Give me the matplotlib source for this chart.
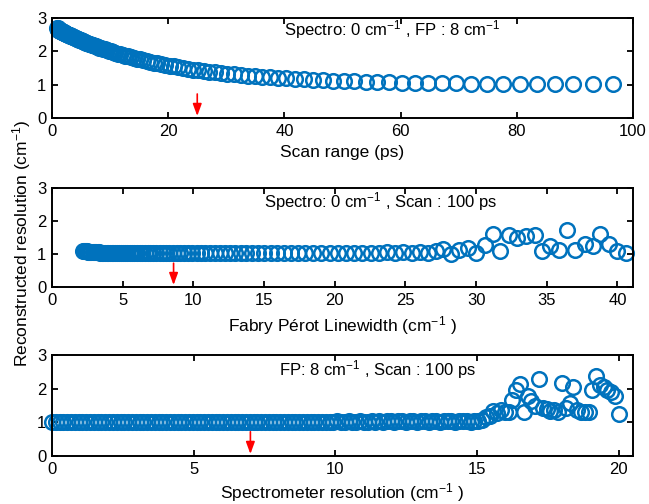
import matplotlib
matplotlib.use("Agg")
import matplotlib.pyplot as plt

plt.rcParams['font.family'] = ['Liberation Sans', 'DejaVu Sans']
plt.rcParams['mathtext.fontset'] = 'custom'
plt.rcParams['mathtext.rm'] = 'Liberation Sans'
plt.rcParams['mathtext.it'] = 'Liberation Sans:italic'
plt.rcParams['mathtext.bf'] = 'Liberation Sans:bold'

# ---------------- data: top panel (scan range) ----------------
scan_x = [0.92, 0.96, 0.99, 1.03, 1.07, 1.11, 1.15, 1.19, 1.23, 1.28, 1.33, 1.38, 1.43, 1.48,
          1.53, 1.59, 1.65, 1.71, 1.77, 1.84, 1.91, 1.98, 2.05, 2.13, 2.21, 2.29, 2.37, 2.46,
          2.55, 2.65, 2.74, 2.85, 2.95, 3.06, 3.17, 3.29, 3.41, 3.54, 3.67, 3.81, 3.95, 4.09,
          4.24, 4.40, 4.56, 4.73, 4.91, 5.09, 5.28, 5.47, 5.67, 5.88, 6.10, 6.33, 6.56, 6.80,
          7.06, 7.32, 7.59, 7.87, 8.16, 8.46, 8.77, 9.10, 9.44, 9.78, 10.15, 10.52, 10.91,
          11.31, 11.73, 12.17, 12.62, 13.08, 13.57, 14.07, 14.59, 15.13, 15.69, 16.27, 16.87,
          17.50, 18.14, 18.82, 19.51, 20.23, 20.98, 21.76, 22.56, 23.40, 24.26, 25.16, 26.09,
          27.06, 28.06, 29.10, 30.17, 31.29, 32.45, 33.65, 34.89, 36.18, 37.52, 38.91, 40.35,
          41.84, 43.39, 45.00, 46.66, 48.39, 50.18, 52.03, 53.96, 55.95, 58.02, 60.17, 62.40,
          64.71, 67.10, 69.59, 72.16, 74.83, 77.60, 80.47, 83.45, 86.54, 89.74, 93.06, 96.50]
scan_y = [2.70, 2.69, 2.68, 2.67, 2.66, 2.65, 2.64, 2.64, 2.63, 2.63, 2.63, 2.62, 2.62, 2.61,
          2.61, 2.60, 2.60, 2.59, 2.59, 2.58, 2.57, 2.57, 2.56, 2.55, 2.55, 2.54, 2.53, 2.53,
          2.52, 2.51, 2.50, 2.49, 2.49, 2.48, 2.47, 2.46, 2.45, 2.44, 2.43, 2.42, 2.41, 2.39,
          2.38, 2.37, 2.36, 2.35, 2.33, 2.32, 2.31, 2.29, 2.28, 2.26, 2.25, 2.23, 2.22, 2.20,
          2.18, 2.17, 2.15, 2.13, 2.11, 2.09, 2.07, 2.06, 2.04, 2.02, 2.00, 1.98, 1.95,
          1.93, 1.91, 1.89, 1.87, 1.85, 1.82, 1.80, 1.78, 1.76, 1.73, 1.71, 1.69,
          1.66, 1.64, 1.61, 1.59, 1.57, 1.55, 1.52, 1.50, 1.48, 1.45, 1.43, 1.41,
          1.39, 1.37, 1.35, 1.33, 1.31, 1.29, 1.27, 1.25, 1.23, 1.22, 1.20, 1.19,
          1.17, 1.16, 1.14, 1.13, 1.12, 1.11, 1.10, 1.09, 1.08, 1.07, 1.06, 1.05,
          1.05, 1.04, 1.04, 1.03, 1.03, 1.02, 1.02, 1.02, 1.01, 1.01, 1.01, 1.01]

# ---------------- data: middle panel (Fabry-Perot linewidth) ----------------
fp_x = [2.20, 2.27, 2.33, 2.40, 2.48, 2.55, 2.63, 2.71, 2.79, 2.87, 2.96, 3.04, 3.14, 3.23,
        3.33, 3.43, 3.53, 3.64, 3.74, 3.86, 3.97, 4.09, 4.21, 4.34, 4.47, 4.60, 4.74, 4.88,
        5.03, 5.18, 5.34, 5.50, 5.66, 5.83, 6.01, 6.19, 6.37, 6.56, 6.76, 6.96, 7.17, 7.39,
        7.61, 7.84, 8.07, 8.31, 8.56, 8.82, 9.09, 9.36, 9.64, 9.93, 10.23, 10.53, 10.85,
        11.17, 11.51, 11.85, 12.21, 12.58, 12.95, 13.34, 13.74, 14.15, 14.58, 15.01, 15.46,
        15.93, 16.41, 16.90, 17.40, 17.93, 18.46, 19.02,
        19.64, 20.22, 20.80, 21.38, 21.96, 22.54, 23.12, 23.70, 24.28, 24.86, 25.44, 26.02,
        26.60, 27.15, 27.65, 28.25, 28.80, 29.40, 30.00, 30.60, 31.20, 31.70, 32.30, 32.90,
        33.50, 34.15, 34.65, 35.25, 35.90, 36.45, 37.00, 37.70, 38.25, 38.80, 39.40, 40.00,
        40.60]
fp_y = [1.10, 1.09, 1.09, 1.08, 1.08, 1.07, 1.07, 1.07, 1.06, 1.06, 1.06, 1.05, 1.05, 1.05,
        1.05, 1.04, 1.04, 1.04, 1.04, 1.04, 1.03, 1.03, 1.03, 1.03, 1.03, 1.03, 1.03, 1.03,
        1.03, 1.03, 1.03, 1.03, 1.03, 1.02, 1.02, 1.02, 1.02, 1.02, 1.02, 1.02, 1.02, 1.02,
        1.02, 1.02, 1.02, 1.02, 1.02, 1.02, 1.02, 1.02, 1.02, 1.02, 1.02, 1.02, 1.02,
        1.02, 1.02, 1.02, 1.02, 1.02, 1.02, 1.02, 1.02, 1.02, 1.02, 1.02, 1.02,
        1.02, 1.02, 1.02, 1.02, 1.02, 1.02, 1.02,
        1.02, 1.02, 1.03, 1.02, 1.03, 1.04, 1.03, 1.06, 1.03, 1.05, 1.04, 1.06,
        1.03, 1.10, 1.16, 1.00, 1.11, 1.19, 1.02, 1.27, 1.61, 1.10, 1.57, 1.47,
        1.54, 1.57, 1.08, 1.25, 1.12, 1.72, 1.12, 1.30, 1.25, 1.62, 1.30, 1.10,
        1.03]

# ---------------- data: bottom panel (spectrometer resolution) ----------------
spec_x = [0.00, 0.13, 0.27, 0.40, 0.54, 0.67, 0.81, 0.94, 1.07, 1.21, 1.34, 1.48, 1.61, 1.74,
          1.88, 2.01, 2.15, 2.28, 2.42, 2.55, 2.68, 2.82, 2.95, 3.09, 3.22, 3.36, 3.49, 3.62,
          3.76, 3.89, 4.03, 4.16, 4.30, 4.43, 4.56, 4.70, 4.83, 4.97, 5.10, 5.23, 5.37, 5.50,
          5.64, 5.77, 5.91, 6.04, 6.17, 6.31, 6.44, 6.58, 6.71, 6.85, 6.98, 7.11, 7.25, 7.38,
          7.52, 7.65, 7.79, 7.92, 8.05, 8.19, 8.32, 8.46, 8.59, 8.72, 8.86, 8.99, 9.13, 9.26,
          9.40, 9.53, 9.66, 9.80, 9.93, 10.07, 10.20, 10.34, 10.47, 10.60, 10.74, 10.87, 11.01,
          11.14, 11.28, 11.41, 11.54, 11.68, 11.81, 11.95, 12.08, 12.21, 12.35, 12.48, 12.62,
          12.75, 12.89, 13.02, 13.15, 13.29, 13.42, 13.56, 13.69, 13.83, 13.96, 14.09, 14.23,
          14.36, 14.50, 14.63, 14.77, 14.90, 15.03, 15.17, 15.30, 15.44, 15.57, 15.70, 15.84,
          15.97, 16.11, 16.24, 16.38, 16.51, 16.64, 16.78, 16.91, 17.05, 17.18, 17.32, 17.45,
          17.58, 17.72, 17.85, 17.99, 18.12, 18.26, 18.39, 18.52, 18.66, 18.79, 18.93, 19.06,
          19.19, 19.33, 19.46, 19.60, 19.73, 19.87, 20.00]
spec_y = [1.02, 1.02, 1.02, 1.02, 1.02, 1.02, 1.02, 1.02, 1.02, 1.02, 1.02, 1.02, 1.02, 1.02,
          1.02, 1.02, 1.02, 1.02, 1.02, 1.02, 1.02, 1.02, 1.02, 1.02, 1.02, 1.02, 1.02, 1.02,
          1.02, 1.02, 1.02, 1.02, 1.02, 1.02, 1.02, 1.02, 1.02, 1.02, 1.02, 1.02, 1.02, 1.02,
          1.02, 1.02, 1.02, 1.02, 1.02, 1.02, 1.02, 1.02, 1.02, 1.02, 1.02, 1.02, 1.02, 1.02,
          1.02, 1.02, 1.02, 1.02, 1.02, 1.02, 1.02, 1.02, 1.02, 1.02, 1.02, 1.02, 1.02, 1.02,
          1.02, 1.02, 1.02, 1.02, 1.02, 1.03, 1.02, 1.02, 1.03, 1.02, 1.02, 1.03, 1.02,
          1.02, 1.03, 1.02, 1.03, 1.02, 1.03, 1.03, 1.02, 1.03, 1.03, 1.02, 1.03,
          1.03, 1.02, 1.03, 1.03, 1.02, 1.03, 1.03, 1.02, 1.03, 1.03, 1.03, 1.02,
          1.03, 1.03, 1.03, 1.02, 1.03, 1.03, 1.08, 1.15, 1.20, 1.35, 1.28, 1.38,
          1.30, 1.32, 1.66, 1.96, 2.14, 1.32, 1.78, 1.62, 1.50, 2.28, 1.42, 1.40,
          1.33, 1.38, 1.30, 2.18, 1.42, 1.58, 2.06, 1.36, 1.32, 1.32, 1.32, 1.96,
          2.38, 2.12, 2.05, 1.95, 1.90, 1.78, 1.25]

# ---------------- text ----------------
panel_xlabels = ['Scan range (ps)', 'Fabry Pérot Linewidth (cm$^{-1}$ )',
                 'Spectrometer resolution (cm$^{-1}$ )']
panel_notes = ['Spectro: 0 cm$^{-1}$ , FP : 8 cm$^{-1}$',
               'Spectro: 0 cm$^{-1}$ , Scan : 100 ps',
               'FP: 8 cm$^{-1}$ , Scan : 100 ps']
ylabel_text = 'Reconstructed resolution (cm$^{-1}$)'
arrow_x = [25.0, 8.6, 7.0]
xlims = [(0, 100), (0, 41.1), (0, 20.5)]
xticks = [[0, 20, 40, 60, 80, 100], [0, 5, 10, 15, 20, 25, 30, 35, 40], [0, 5, 10, 15, 20]]
note_pos = [(40.0, 2.64), (15.0, 2.58), (8.0, 2.57)]
label_pads = [5, 5, 3]

W, H = 649, 504
fig = plt.figure(figsize=(W / 100, H / 100), dpi=100)
boxes = [(52, 18, 118), (52, 188, 287), (52, 355, 456)]
blue = '#0072BD'
data = [(scan_x, scan_y), (fp_x, fp_y), (spec_x, spec_y)]

for i, (l, t, b) in enumerate(boxes):
    ax = fig.add_axes([l / W, (H - b) / H, 581 / W, (b - t) / H])
    xs, ys = data[i]
    ax.plot(xs, ys, 'o', linestyle='none', mfc='none', mec=blue, ms=10.5, mew=1.8,
            clip_on=False, zorder=3)
    ax.set_xlim(*xlims[i])
    ax.set_ylim(0, 3)
    ax.set_xticks(xticks[i])
    ax.set_yticks([0, 1, 2, 3])
    ax.tick_params(direction='in', length=4.5, width=1.3, top=True, right=True,
                   labelsize=12, pad=4, colors='black')
    for s in ax.spines.values():
        s.set_linewidth(1.4)
        s.set_zorder(4)
    ax.set_xlabel(panel_xlabels[i], fontsize=12.5, labelpad=label_pads[i])
    ax.text(note_pos[i][0], note_pos[i][1], panel_notes[i], fontsize=12,
            ha='left', va='center')
    ax.annotate('', xy=(arrow_x[i], 0.06), xytext=(arrow_x[i], 0.72),
                arrowprops=dict(arrowstyle='-|>,head_length=0.6,head_width=0.22',
                                color='red', lw=1.2, shrinkA=0, shrinkB=0,
                                mutation_scale=12), zorder=5)

fig.text(22 / W, 1 - 243 / H, ylabel_text, rotation=90, ha='center', va='center',
         fontsize=12.5)

fig.savefig('out.png', dpi=100)
